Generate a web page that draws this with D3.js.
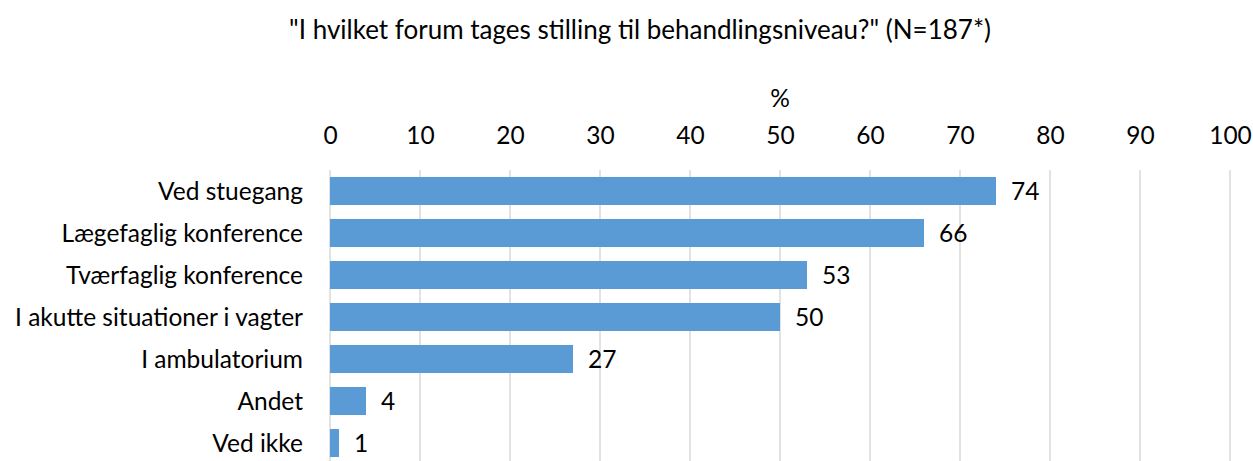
<!DOCTYPE html>
<html><head><meta charset="utf-8">
<script src="https://cdn.jsdelivr.net/npm/d3@7"></script>
<style>body{margin:0;background:#fff}svg{display:block}text{font-family:Lato,"Open Sans",sans-serif;fill:#000}</style>
</head><body>
<svg id="c" width="1253" height="461"></svg>
<script>
const categories = ["Ved stuegang","Lægefaglig konference","Tværfaglig konference","I akutte situationer i vagter","I ambulatorium","Andet","Ved ikke"];
const values = [74,66,53,50,27,4,1];
const ticks = [0,10,20,30,40,50,60,70,80,90,100];
const title = "\"I hvilket forum tages stilling til behandlingsniveau?\" (N=187*)";
const axisTitle = "%";

const svg = d3.select("#c");
const fs = 24.5;
const x = d3.scaleLinear().domain([0,100]).range([330,1230]);
const y = d3.scaleBand().domain(categories).range([170,464]).paddingInner(0.333).paddingOuter(0.1665);

svg.append("text").attr("x",640).attr("y",39).attr("text-anchor","middle").style("font-size","26px").text(title);
svg.append("text").attr("x",x(50)).attr("y",107).attr("text-anchor","middle").style("font-size",fs+"px").text(axisTitle);

svg.append("g").selectAll("line").data(ticks).join("line")
  .attr("x1",d=>x(d)).attr("x2",d=>x(d)).attr("y1",170).attr("y2",461)
  .attr("stroke","#d9d9d9").attr("stroke-width",1.5);

const ax = d3.axisTop(x).tickValues(ticks).tickSize(0).tickPadding(0);
const g = svg.append("g").attr("transform","translate(0,144)").call(ax);
g.select(".domain").remove();
g.selectAll("text").style("font-size",fs+"px").attr("font-family",null);

svg.append("g").selectAll("rect").data(values).join("rect")
  .attr("x",x(0)).attr("y",(d,i)=>y(categories[i]))
  .attr("width",d=>x(d)-x(0)).attr("height",y.bandwidth())
  .attr("fill","#5b9bd5");

svg.append("g").selectAll("text").data(values).join("text")
  .attr("x",d=>x(d)+15).attr("y",(d,i)=>y(categories[i])+y.bandwidth()/2)
  .attr("dy","0.36em").style("font-size",fs+"px").text(d=>d);

svg.append("g").selectAll("text").data(categories).join("text")
  .attr("x",303).attr("y",d=>y(d)+y.bandwidth()/2).attr("dy","0.36em")
  .attr("text-anchor","end").style("font-size",fs+"px").text(d=>d);
</script>
</body></html>
